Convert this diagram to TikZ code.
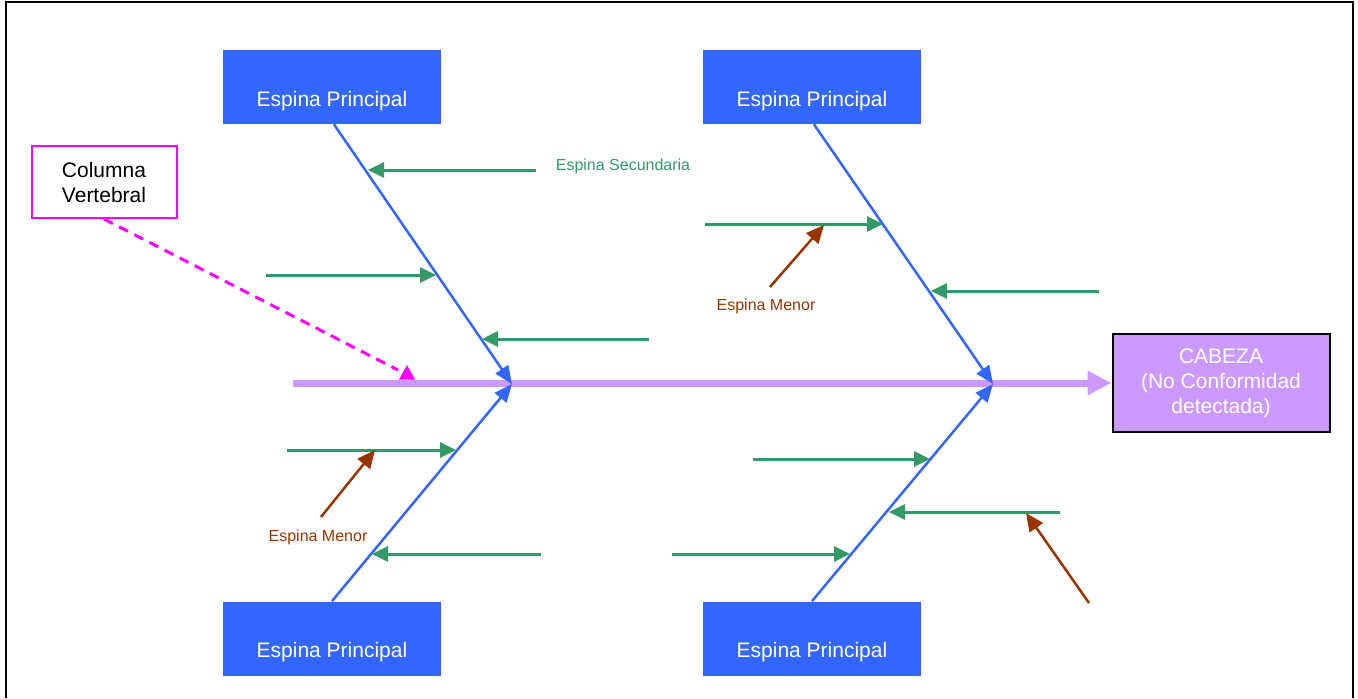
\documentclass[tikz,border=0pt]{standalone}
\usepackage{fontspec}
\setmainfont{Liberation Sans}
\usetikzlibrary{arrows.meta,calc}
\definecolor{pblue}{HTML}{3366FF}
\definecolor{pgreen}{HTML}{339966}
\definecolor{pbrown}{HTML}{993300}
\definecolor{ppurple}{HTML}{CC99FF}
\definecolor{pmag}{HTML}{FF00FF}
\begin{document}
\begin{tikzpicture}[x=0.5pt,y=-0.5pt,
  bluebox/.style={fill=pblue, draw=none, minimum width=109pt, minimum height=37pt,
    inner sep=0pt, text=white, font=\fontsize{10.5}{12.5}\selectfont,
    text height=19pt, text depth=0pt},
  headbox/.style={fill=ppurple, draw=black, line width=1pt, minimum width=108.5pt,
    minimum height=49pt, inner sep=0pt, text=white, align=center,
    font=\fontsize{10.5}{12.5}\selectfont},
  colbox/.style={fill=white, draw=pmag, line width=1pt, minimum width=72.5pt,
    minimum height=36pt, inner sep=0pt, text=black, align=center,
    font=\fontsize{10.5}{12.5}\selectfont},
  bone/.style={draw=pblue, line width=1.25pt, -{Triangle[length=9pt,width=7.5pt]}},
  sec/.style={draw=pgreen, line width=1.5pt, -{Triangle[length=8pt,width=7.5pt]}},
  minor/.style={draw=pbrown, line width=1.25pt, -{Triangle[length=9pt,width=8pt]}},
  spinestyle/.style={draw=ppurple, line width=3.5pt, -{Triangle[length=12pt,width=11.5pt]}},
  seclabel/.style={text=pgreen, font=\fontsize{8}{10}\selectfont, inner sep=0pt},
  minlabel/.style={text=pbrown, font=\fontsize{8}{10}\selectfont, inner sep=0pt},
  frame/.style={draw=black, line width=1pt}
]
\useasboundingbox (0,0) rectangle (1358,698);
% frame
\coordinate (fa) at (6,698);
\coordinate (fb) at (6,1.5);
\coordinate (fc) at (1353,1.5);
\coordinate (fd) at (1353,698);
\draw[frame] (fa) -- (fb) -- (fc) -- (fd);

% boxes
\node[bluebox] (p1) at (332,87) {Espina Principal};
\node[bluebox] (p2) at (812,87) {Espina Principal};
\node[bluebox] (p3) at (332,638.5) {Espina Principal};
\node[bluebox] (p4) at (812,638.5) {Espina Principal};
\node[headbox] (cab) at (1221,383) {CABEZA\\(No Conformidad\\detectada)};
\node[colbox] (col) at (104,182) {Columna\\Vertebral};

% spine
\coordinate (sp) at (293,383);
\draw[spinestyle] (sp) -- (cab.west);

% junctions
\coordinate (j1) at (512,384);
\coordinate (j2) at (993,384);

% bones
\draw[bone] ([xshift=1pt]p1.south) -- (j1);
\draw[bone] (p3.north) -- (j1);
\draw[bone] ([xshift=1pt]p2.south) -- (j2);
\draw[bone] (p4.north) -- (j2);

% secondary spines
\coordinate (g1s) at (536,170);  \coordinate (g1t) at (368,170);
\coordinate (g2s) at (266,275);  \coordinate (g2t) at (436,275);
\coordinate (g3s) at (649,339);  \coordinate (g3t) at (482,339);
\coordinate (g4s) at (287,450);  \coordinate (g4t) at (456,450);
\coordinate (g5s) at (541,554);  \coordinate (g5t) at (372,554);
\coordinate (g6s) at (705,224);  \coordinate (g6t) at (883,224);
\coordinate (g7s) at (1099,291); \coordinate (g7t) at (931,291);
\coordinate (g8s) at (753,459);  \coordinate (g8t) at (930,459);
\coordinate (g9s) at (1060,512); \coordinate (g9t) at (889,512);
\coordinate (g10s) at (672,554); \coordinate (g10t) at (850,554);
\foreach \i in {1,...,10} { \draw[sec] (g\i s) -- (g\i t); }

% minor spines
\coordinate (m1s) at (770,287);  \coordinate (m1t) at (824,225);
\coordinate (m2s) at (321,517);  \coordinate (m2t) at (375,450);
\coordinate (m3s) at (1089,603); \coordinate (m3t) at (1026,513);
\draw[minor] (m1s) -- (m1t);
\draw[minor] (m2s) -- (m2t);
\draw[minor] (m3s) -- (m3t);

% labels
\node[seclabel] (ls) at (623,166) {Espina Secundaria};
\node[minlabel] (lm1) at (766,306) {Espina Menor};
\node[minlabel] (lm2) at (318,537) {Espina Menor};

% column pointer
\coordinate (cvend) at (398,370);
\draw[draw=pmag, line width=1.5pt, dash pattern=on 5pt off 3.5pt] (col.south) -- (cvend);
\coordinate (ta) at (399,379.5);
\coordinate (tb) at (415,379.5);
\coordinate (tc) at (407,365);
\fill[pmag] (ta) -- (tb) -- (tc) -- cycle;
\end{tikzpicture}
\end{document}
